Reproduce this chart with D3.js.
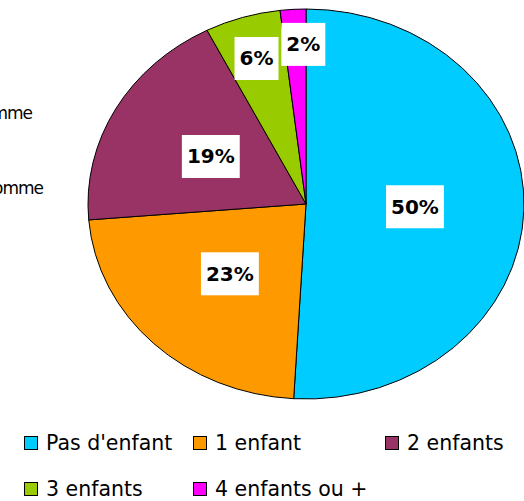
<!DOCTYPE html>
<html>
<head>
<meta charset="utf-8">
<script src="https://cdn.jsdelivr.net/npm/d3@7"></script>
<style>
  html, body { margin: 0; padding: 0; background: #fff; }
  svg { display: block; }
</style>
</head>
<body>
<svg id="chart" width="524" height="501"></svg>
<script>
// ---- data ----
const categories = ["Pas d'enfant", "1 enfant", "2 enfants", "3 enfants", "4 enfants ou +"];
const values = [50.9, 22.8, 18.8, 5.6, 1.9];
const valueLabels = ["50%", "23%", "19%", "6%", "2%"];
const colors = ["#00CCFF", "#FF9900", "#993366", "#99CC00", "#FF00FF"];
const sideTexts = ["Femme", "Homme"];

// ---- layout ----
const W = 524, H = 501;
const cx = 306, cy = 204, rx = 218, ry = 195;
const labelFrac = [0.5, 0.5, 0.5, 0.78, 0.82];
const labelNudgeX = [0, 0, 0, 0, 8];

const svg = d3.select("#chart");

// cut-off text at the left edge (as in the reference)
const sideG = svg.append("g");
sideG.selectAll("text").data(sideTexts).join("text")
  .attr("x", (d, i) => [32, 43][i])
  .attr("y", (d, i) => [119, 194][i])
  .attr("text-anchor", "end")
  .attr("font-family", "DejaVu Sans, sans-serif")
  .attr("font-size", 17)
  .attr("letter-spacing", -1)
  .attr("fill", "#000")
  .text(d => d);

const pie = d3.pie().sort(null).value(d => d);
const arcs = pie(values);
const arc = d3.arc().innerRadius(0).outerRadius(ry);

const g = svg.append("g")
  .attr("transform", `translate(${cx},${cy}) scale(${rx / ry},1)`);

g.selectAll("path").data(arcs).join("path")
  .attr("d", arc)
  .attr("fill", (d, i) => colors[i])
  .attr("stroke", "#000")
  .attr("stroke-width", 1)
  .attr("vector-effect", "non-scaling-stroke");

// labels
const lg = svg.append("g");
arcs.forEach((a, i) => {
  const mid = (a.startAngle + a.endAngle) / 2;
  const x = cx + labelFrac[i] * rx * Math.sin(mid) + labelNudgeX[i];
  const y = cy - labelFrac[i] * ry * Math.cos(mid);
  const grp = lg.append("g");
  const rect = grp.append("rect").attr("fill", "#fff");
  const t = grp.append("text")
    .attr("x", x).attr("y", y)
    .attr("text-anchor", "middle")
    .attr("dominant-baseline", "central")
    .attr("font-family", "DejaVu Sans, sans-serif")
    .attr("font-weight", "bold")
    .attr("font-size", 20)
    .attr("fill", "#000")
    .text(valueLabels[i]);
  const w = t.node().getComputedTextLength();
  const bw = w + 10, bh = 43;
  rect.attr("x", x - bw / 2).attr("y", y - bh / 2).attr("width", bw).attr("height", bh);
});

// legend
const legendPos = [[24, 443], [193, 443], [385, 443], [24, 489], [193, 489]];
const leg = svg.append("g");
categories.forEach((c, i) => {
  const [lx, ly] = legendPos[i];
  leg.append("rect")
    .attr("x", lx + 0.5).attr("y", ly - 6.5)
    .attr("width", 13).attr("height", 13)
    .attr("fill", colors[i]).attr("stroke", "#000").attr("stroke-width", 1);
  leg.append("text")
    .attr("x", lx + 22).attr("y", ly)
    .attr("dominant-baseline", "central")
    .attr("font-family", "DejaVu Sans, sans-serif")
    .attr("font-size", 20.5)
    .attr("fill", "#000")
    .text(c);
});
</script>
</body>
</html>
